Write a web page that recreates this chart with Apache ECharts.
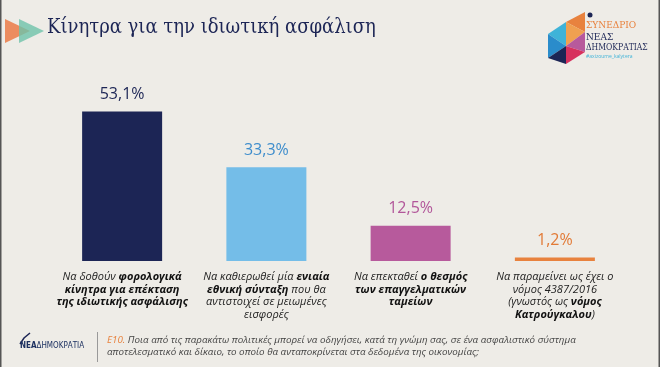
<!DOCTYPE html>
<html>
<head>
<meta charset="utf-8">
<script src="https://cdn.jsdelivr.net/npm/echarts@6/dist/echarts.min.js"></script>
<style>
html,body{margin:0;padding:0;background:#eeece7;}
#c{width:660px;height:367px;}
</style>
</head>
<body>
<div id="c"></div>
<script>
// ---- data ----
var categories = [
  "Να δοθούν **φορολογικά**\n**κίνητρα για επέκταση**\n**της ιδιωτικής ασφάλισης**",
  "Να καθιερωθεί μία **ενιαία**\n**εθνική σύνταξη** που θα\nαντιστοιχεί σε μειωμένες\nεισφορές",
  "Να επεκταθεί **ο θεσμός**\n**των επαγγελματικών**\n**ταμείων**",
  "Να παραμείνει ως έχει ο\nνόμος 4387/2016\n(γνωστός ως **νόμος**\n**Κατρούγκαλου**)"
];
var values = [53.1, 33.3, 12.5, 1.2];
var valueLabels = ["53,1%", "33,3%", "12,5%", "1,2%"];
var barColors = ["#1c2555", "#74bde8", "#b75a9c", "#e8823e"];
var labelColors = ["#1c2555", "#3e8dcc", "#b2579a", "#e27a36"];
var title = "Κίνητρα για την ιδιωτική ασφάλιση";
var questionCode = "Ε10.";
var questionLines = [
  " Ποια από τις παρακάτω πολιτικές μπορεί να οδηγήσει, κατά τη γνώμη σας, σε ένα ασφαλιστικό σύστημα",
  "αποτελεσματικό και δίκαιο, το οποίο θα ανταποκρίνεται στα δεδομένα της οικονομίας;"
];

function toRich(s) {
  return s.split("\n").map(function (line) {
    var parts = line.split("**");
    return parts.map(function (p, i) {
      if (!p) return "";
      return (i % 2 === 1 ? "{b|" : "{n|") + p + "}";
    }).join("");
  }).join("\n");
}

var chart = echarts.init(document.getElementById("c"));
var base = { fontFamily: "Open Sans", fontStyle: "italic", fontSize: 11, color: "#222", lineHeight: 12.5 };

chart.setOption({
  backgroundColor: "#eeece7",
  animation: false,
  grid: { left: 50, right: 33, top: 92, bottom: 106 },
  xAxis: {
    type: "category",
    data: categories,
    axisLine: { show: false },
    axisTick: { show: false },
    axisLabel: {
      interval: 0,
      margin: 10,
      formatter: function (v) { return toRich(v); },
      rich: {
        n: Object.assign({}, base),
        b: Object.assign({}, base, { fontWeight: "bold", color: "#111" })
      }
    }
  },
  yAxis: { type: "value", min: 0, max: 60, show: false, splitLine: { show: false } },
  series: [{
    type: "bar",
    barWidth: 80,
    data: values.map(function (v, i) {
      return {
        value: v,
        itemStyle: { color: barColors[i] },
        label: { color: labelColors[i], formatter: valueLabels[i] }
      };
    }),
    label: {
      show: true,
      position: "top",
      distance: 9,
      fontFamily: "Open Sans",
      fontSize: 16
    }
  }],
  graphic: [
    // left/right frame lines
    { type: "rect", shape: { x: 0, y: 0, width: 1.5, height: 367 }, style: { fill: "#555" } },
    { type: "rect", shape: { x: 658.5, y: 0, width: 1.5, height: 367 }, style: { fill: "#555" } },
    // title arrows
    { type: "polygon", shape: { points: [[5, 19], [30, 31], [5, 43]] }, style: { fill: "rgba(235,130,80,0.9)" } },
    { type: "polygon", shape: { points: [[19, 19], [44, 31], [19, 43]] }, style: { fill: "rgba(110,195,170,0.8)" } },
    { type: "text", left: 47, top: 18, style: { text: title, fill: "#1c2555", font: "500 20px 'DejaVu Serif Condensed'" } },
    // top-right logo (approximation)
    { type: "polygon", shape: { points: [[566, 22], [585, 12], [585, 32]] }, style: { fill: "#e8823e" } },
    { type: "polygon", shape: { points: [[548, 34], [566, 22], [566, 46]] }, style: { fill: "#3fb3d8" } },
    { type: "polygon", shape: { points: [[566, 22], [585, 32], [566, 46]] }, style: { fill: "#f0a050" } },
    { type: "polygon", shape: { points: [[566, 46], [585, 32], [585, 52]] }, style: { fill: "#b75a9c" } },
    { type: "polygon", shape: { points: [[548, 34], [566, 46], [548, 58]] }, style: { fill: "#2a8ccb" } },
    { type: "polygon", shape: { points: [[566, 46], [585, 52], [566, 64]] }, style: { fill: "#d7315e" } },
    { type: "polygon", shape: { points: [[548, 58], [566, 46], [566, 64]] }, style: { fill: "#1c2555" } },
    { type: "circle", shape: { cx: 590, cy: 15, r: 2.5 }, style: { fill: "#1c2555" } },
    { type: "text", left: 586, top: 20, style: { text: "ΣΥΝΕΔΡΙΟ", fill: "#e8823e", font: "10px 'DejaVu Serif Condensed'" } },
    { type: "text", left: 586, top: 32, style: { text: "ΝΕΑΣ", fill: "#1c2555", font: "10px 'DejaVu Serif Condensed'" } },
    { type: "text", left: 586, top: 43, style: { text: "ΔΗΜΟΚΡΑΤΙΑΣ", fill: "#1c2555", font: "8.5px 'DejaVu Serif Condensed'" } },
    { type: "text", left: 586, top: 54, style: { text: "#axizoume_kalytera", fill: "#3fb3d8", font: "5px 'Open Sans'" } },
    // bottom-left logo
    { type: "polyline", shape: { points: [[20, 344], [24, 338], [30, 333]] }, style: { stroke: "#1c2555", lineWidth: 1.5, fill: null } },
    { type: "text", left: 20, top: 342, style: {
      text: "{a|ΝΕΑ}{d|ΔΗΜΟΚΡΑΤΙΑ}",
      rich: {
        a: { fill: "#1c3060", font: "bold 8px 'DejaVu Sans Condensed'" },
        d: { fill: "#1c3060", font: "8px 'DejaVu Sans Condensed'" }
      }
    } },
    { type: "rect", shape: { x: 97, y: 332, width: 1, height: 30 }, style: { fill: "#999" } },
    { type: "text", left: 107, top: 335, style: {
      text: "{o|" + questionCode + "}{q|" + questionLines[0] + "}\n{q|" + questionLines[1] + "}",
      rich: {
        o: { fill: "#e8823e", font: "italic 9.8px 'Open Sans'", lineHeight: 12 },
        q: { fill: "#444", font: "italic 9.8px 'Open Sans'", lineHeight: 12 }
      }
    } }
  ]
});
</script>
</body>
</html>
